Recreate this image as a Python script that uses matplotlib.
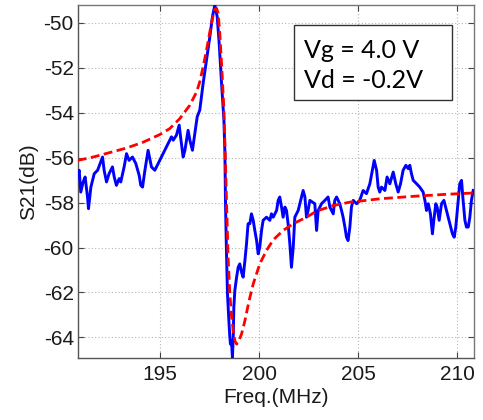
import matplotlib
matplotlib.use("Agg")
import matplotlib.pyplot as plt
from matplotlib.patches import Rectangle

# Measured S21 (blue)
freq_meas = [190.84, 190.91, 190.99, 191.11, 191.21, 191.33, 191.38, 191.50, 191.67, 191.84,
             192.00, 192.09, 192.17, 192.29, 192.42, 192.59, 192.68, 192.79, 192.93, 193.01,
             193.18, 193.30, 193.43, 193.60, 193.77, 193.94, 194.02, 194.11, 194.23, 194.39,
             194.56, 194.73, 194.90, 195.07, 195.24, 195.40, 195.57, 195.66, 195.82, 195.96,
             196.03, 196.16, 196.25, 196.41, 196.50, 196.63, 196.75, 196.87, 197.00, 197.17,
             197.34, 197.51, 197.64, 197.76, 197.88, 197.98, 198.10, 198.22, 198.27, 198.30,
             198.35, 198.40, 198.47, 198.52, 198.55, 198.60, 198.65, 198.69, 198.72, 198.77,
             198.86, 198.94, 199.02, 199.11, 199.19, 199.28, 199.36, 199.44, 199.53, 199.61,
             199.70, 199.78, 199.87, 199.95, 200.03, 200.12, 200.20, 200.37, 200.54, 200.62,
             200.71, 200.88, 200.96, 201.04, 201.13, 201.21, 201.30, 201.38, 201.46, 201.55,
             201.63, 201.72, 201.80, 201.97, 202.14, 202.22, 202.31, 202.39, 202.47, 202.56,
             202.81, 202.90, 202.98, 203.15, 203.32, 203.48, 203.57, 203.74, 203.82, 203.91,
             204.07, 204.16, 204.24, 204.33, 204.41, 204.49, 204.58, 204.66, 204.75, 204.92,
             205.08, 205.25, 205.42, 205.59, 205.72, 205.81, 205.93, 206.01, 206.09, 206.18,
             206.35, 206.46, 206.60, 206.77, 206.90, 207.02, 207.14, 207.27, 207.41, 207.53,
             207.61, 207.69, 207.78, 207.95, 208.11, 208.28, 208.37, 208.45, 208.54, 208.65,
             208.75, 208.82, 208.92, 208.99, 209.09, 209.21, 209.33, 209.46, 209.63, 209.76,
             209.85, 209.93, 210.05, 210.13, 210.22, 210.30, 210.39, 210.47, 210.56, 210.64,
             210.72, 210.81]
s21_meas = [-56.79, -56.56, -57.53, -57.08, -56.86, -57.75, -58.27, -57.31, -56.71, -56.56,
            -56.19, -55.97, -56.56, -57.08, -56.71, -56.41, -56.86, -57.23, -56.93, -57.08,
            -56.41, -55.82, -56.12, -55.97, -56.26, -56.79, -57.23, -57.31, -56.56, -55.67,
            -56.41, -56.56, -56.26, -55.97, -55.67, -55.37, -55.07, -55.22, -55.00, -54.55,
            -55.07, -55.97, -55.67, -54.78, -55.22, -55.67, -54.93, -54.18, -53.88, -52.69,
            -51.65, -50.61, -49.72, -49.20, -49.72, -50.91, -52.69, -54.33, -55.82, -58.05,
            -60.28, -62.07, -63.26, -64.00, -64.30, -64.15, -64.90, -64.00, -62.66, -61.92,
            -61.32, -60.88, -60.73, -61.10, -61.32, -60.58, -59.84, -58.94, -58.94, -58.50,
            -58.79, -59.24, -59.69, -60.28, -59.99, -59.24, -58.79, -58.65, -58.79, -58.50,
            -58.65, -58.35, -57.90, -57.75, -58.20, -58.65, -58.20, -58.35, -58.94, -59.84,
            -60.88, -59.99, -58.65, -58.35, -57.75, -57.46, -57.75, -58.65, -58.35, -57.90,
            -58.05, -59.24, -58.35, -58.05, -57.90, -57.75, -58.20, -58.50, -57.90, -57.75,
            -58.05, -58.35, -58.65, -59.09, -59.54, -59.69, -59.09, -58.20, -57.90, -58.05,
            -57.90, -57.46, -57.60, -57.16, -56.56, -56.12, -56.56, -57.31, -57.53, -57.31,
            -57.46, -56.86, -57.16, -56.64, -57.16, -57.53, -57.16, -56.56, -56.34, -56.49,
            -56.34, -56.71, -57.01, -57.16, -57.31, -57.53, -57.90, -58.35, -58.05, -58.50,
            -59.39, -58.79, -58.05, -58.20, -58.79, -58.05, -57.90, -58.35, -58.94, -59.39,
            -59.54, -59.09, -57.90, -57.16, -57.01, -57.90, -58.79, -59.09, -59.09, -58.65,
            -57.90, -57.46]

# Fitted curve (red dashed)
freq_fit = [190.84, 191.62, 192.46, 193.30, 194.14, 194.98, 195.49, 195.99, 196.50, 196.84,
            197.00, 197.17, 197.34, 197.51, 197.64, 197.76, 197.85, 197.93, 198.01, 198.11,
            198.22, 198.28, 198.35, 198.43, 198.52, 198.60, 198.69, 198.77, 198.86, 198.94,
            199.11, 199.28, 199.49, 199.70, 200.03, 200.37, 200.71, 201.21, 201.72, 202.39,
            202.90, 203.74, 204.58, 205.42, 206.09, 207.78, 209.46, 210.86]
s21_fit = [-56.12, -55.97, -55.77, -55.57, -55.31, -54.97, -54.70, -54.26, -53.66, -53.07,
           -52.62, -51.95, -51.21, -50.39, -49.79, -49.39, -49.35, -49.57, -50.46, -51.95,
           -53.88, -55.67, -57.90, -60.43, -62.07, -63.04, -63.71, -64.15, -64.30, -64.23,
           -63.85, -63.26, -62.37, -61.62, -60.73, -60.13, -59.66, -59.24, -58.94, -58.65,
           -58.38, -58.13, -57.98, -57.90, -57.83, -57.72, -57.63, -57.57]

x_ticks = [195, 200, 205, 210]
y_ticks = [-64, -62, -60, -58, -56, -54, -52, -50]
annot_lines = ["Vg = 4.0 V", "Vd = -0.2V"]

plt.rcParams['axes.unicode_minus'] = False
plt.rcParams['font.family'] = ['Liberation Sans', 'DejaVu Sans']

fig = plt.figure(figsize=(4.83, 4.20), dpi=100)
ax = fig.add_axes([78/483, 1-358/420, (474-78)/483, (358-5)/420])

ax.plot(freq_meas, s21_meas, color='#0000ff', lw=2.1, zorder=3)
ax.plot(freq_fit, s21_fit, color='#ff0000', lw=2.0, ls=(0, (3.2, 1.6)), zorder=4)

ax.set_xlim(190.85, 210.85)
ax.set_ylim(-64.92, -49.2)
ax.set_xticks(x_ticks)
ax.set_yticks(y_ticks)
ax.set_xticklabels([str(v) for v in x_ticks])
ax.set_yticklabels([str(v) for v in y_ticks])
ax.grid(True, ls=(0, (1, 2)), color='#b5b5b5', lw=0.8)
ax.tick_params(direction='in', length=4, width=0.8, labelsize=15, top=True, right=True,
               colors='#444444', labelcolor='#1a1a1a')
ax.tick_params(axis='x', pad=5)
ax.tick_params(axis='y', pad=3)
for s in ax.spines.values():
    s.set_color('#777777')
    s.set_linewidth(1.0)
ax.spines['left'].set_color('#555555')
ax.spines['bottom'].set_color('#555555')

ax.set_xlabel('Freq.(MHz)', fontsize=15, color='#1a1a1a', labelpad=3)
ax.set_ylabel('S21(dB)', fontsize=15, color='#1a1a1a', labelpad=4)

box = Rectangle((0.545, 0.731), 0.399, 0.212, transform=ax.transAxes,
                facecolor='white', edgecolor='#333333', lw=1.0, zorder=6)
ax.add_patch(box)
ax.text(0.571, 0.850, annot_lines[0], transform=ax.transAxes, fontsize=18,
        family=['Lato', 'DejaVu Sans'], va='baseline', ha='left', zorder=7, color='black')
ax.text(0.571, 0.765, annot_lines[1], transform=ax.transAxes, fontsize=18,
        family=['Lato', 'DejaVu Sans'], va='baseline', ha='left', zorder=7, color='black')

fig.savefig('out.png', dpi=100)
